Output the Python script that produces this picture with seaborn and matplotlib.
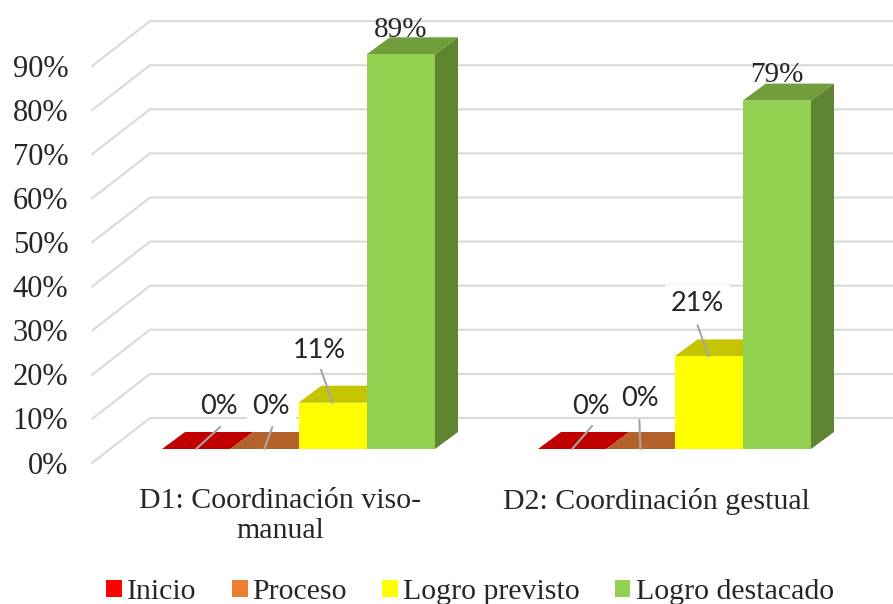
import pandas as pd
import matplotlib.pyplot as plt
import seaborn as sns
from matplotlib.patches import Polygon, Rectangle
from matplotlib.transforms import ScaledTranslation

categories = ['D1: Coordinación viso-\nmanual', 'D2: Coordinación gestual']
levels = ['Inicio', 'Proceso', 'Logro previsto', 'Logro destacado']
inicio = [0, 0]
proceso = [0, 0]
previsto = [10.5, 21]
destacado = [89.5, 79]
value_labels = [['0%', '0%'], ['0%', '0%'], ['11%', '21%'], ['89%', '79%']]
ticks = list(range(0, 100, 10))

front_colors = ['#FF0000', '#ED7D31', '#FFFF00', '#92D050']
top_colors = ['#C00000', '#B5622A', '#C4C400', '#6F9E3A']
side_colors = ['#A00000', '#A05020', '#A0A000', '#5F8532']

# pixels per unit, everything else hangs off these
PX_X = 376
PX_Y = 4.41
W, H = 893, 604


def dx(px):
    return px / PX_X


def dy(px):
    return px / PX_Y


df = pd.DataFrame({
    'cat': categories * 4,
    'level': [l for l in levels for _ in categories],
    'value': inicio + proceso + previsto + destacado,
})

sns.set_style('white')
plt.rcParams['font.family'] = ['Liberation Serif', 'DejaVu Sans']

fig = plt.figure(figsize=(W / 100, H / 100), dpi=100)
ax = fig.add_axes([92 / W, (H - 470) / H, (W - 92) / W, 470 / H])

sns.barplot(data=df, x='cat', y='value', hue='level', hue_order=levels,
            palette=front_colors, saturation=1, width=0.726, gap=0, dodge=True,
            legend=False, ax=ax, linewidth=0)

ax.set_xlim(-206.5 / PX_X, (W - 298.5) / PX_X)
ax.set_ylim(-21 / PX_Y, 449 / PX_Y)
ax.set_xlabel('')
ax.set_ylabel('')
sns.despine(ax=ax, left=True, bottom=True)

# back wall and side wall grid
x_back = dx(150 - 298.5)
x_front = dx(92 - 298.5)
for t in ticks:
    ax.plot([x_front, x_back, dx(W - 298.5)], [t - dy(14), t + dy(31), t + dy(31)],
            color='#D9D9D9', lw=1.5, zorder=1, solid_joinstyle='miter', clip_on=False)

# fake 3d, depth faces behind the seaborn bars
depth_x, depth_y = dx(23), dy(17)
for i, cont in enumerate(ax.containers):
    for bar in cont:
        x0, x1 = bar.get_x(), bar.get_x() + bar.get_width()
        h = bar.get_height()
        bar.set_zorder(4)
        ax.add_patch(Polygon([(x0, h), (x1, h), (x1 + depth_x, h + depth_y), (x0 + depth_x, h + depth_y)],
                             closed=True, fc=top_colors[i], ec='none', zorder=3))
        ax.add_patch(Polygon([(x1, 0), (x1 + depth_x, depth_y), (x1 + depth_x, h + depth_y), (x1, h)],
                             closed=True, fc=side_colors[i], ec='none', zorder=3 if h > 0 else 2))

# label offset from top of bar (px), leader end offset, white box or not
label_dx = [[23, 19], [7, 0], [-13, -11], [0, 0]]
label_dy = [[43, 43], [43, 50], [52, 53], [24, 26]]
leader_end = [[(24, 22), (20, 23)], [(8, 22), (-1, 29)], [(-12, 34), (-11, 31)], [None, None]]
white_box = [[False, False], [True, True], [True, True], [False, False]]
serif_label = [[False, False], [False, False], [False, False], [True, True]]

for i, cont in enumerate(ax.containers):
    for j, bar in enumerate(cont):
        xc = bar.get_x() + bar.get_width() / 2
        h = bar.get_height()
        if leader_end[i][j]:
            ex, ey = leader_end[i][j]
            ax.plot([xc, xc + dx(ex)], [h, h + dy(ey)], color='#A6A6A6', lw=1.5, zorder=6)
        ax.annotate(value_labels[i][j], xy=(xc, h),
                    xytext=(label_dx[i][j], label_dy[i][j]), textcoords='offset pixels',
                    ha='center', va='center', color='#262626',
                    fontsize=21 if serif_label[i][j] else 19.5,
                    family='Liberation Serif' if serif_label[i][j] else 'Lato',
                    zorder=2.5 if serif_label[i][j] else 7,
                    bbox=dict(fc='white', ec='none', pad=4) if white_box[i][j] else None)

ax.set_yticks(ticks)
ax.set_yticklabels([f'{t}%' for t in ticks])
ax.tick_params(axis='y', length=0, pad=17, labelsize=22, labelcolor='#262626')
ax.tick_params(axis='x', length=0, pad=13, labelsize=21.5, labelcolor='#262626')
for lab in ax.get_yticklabels():
    lab.set_transform(lab.get_transform() + ScaledTranslation(0, -13.5 / 100, fig.dpi_scale_trans))
for lab in ax.get_xticklabels():
    lab.set_transform(lab.get_transform() + ScaledTranslation(-18 / 100, 0, fig.dpi_scale_trans))
    lab.set_linespacing(1.2)

handles = [Rectangle((0, 0), 1, 1, fc=c, ec='none') for c in front_colors]
fig.legend(handles, levels, ncol=4, loc='center', bbox_to_anchor=(470 / W, (H - 592) / H),
           frameon=False, fontsize=21.5, handlelength=0.53, handleheight=0.53,
           handletextpad=0.17, columnspacing=1.17, labelcolor='#262626',
           borderpad=0, borderaxespad=0)

fig.savefig('out.png', dpi=100)
